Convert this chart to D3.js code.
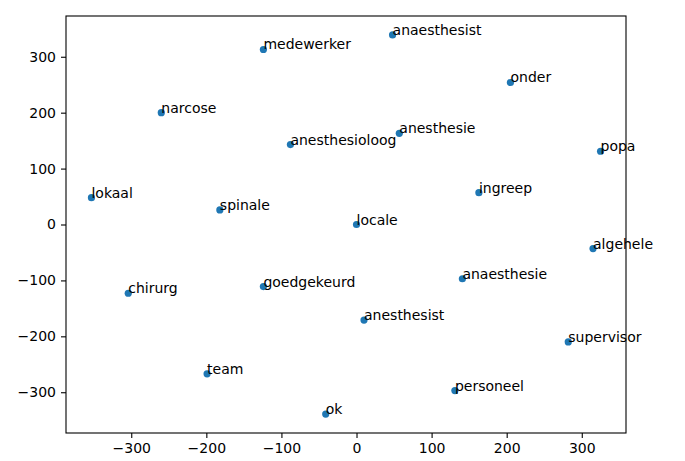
<!DOCTYPE html>
<html>
<head>
<meta charset="utf-8">
<script src="https://cdn.jsdelivr.net/npm/d3@7"></script>
<style>
  body { margin: 0; background: #fff; }
  text { font-family: "DejaVu Sans", sans-serif; }
</style>
</head>
<body>
<svg id="chart"></svg>
<script>
// Words and their 2-D embedding coordinates
const words = ["medewerker", "narcose", "anesthesioloog", "lokaal", "spinale",
  "anaesthesist", "onder", "anesthesie", "popa", "ingreep", "locale",
  "algehele", "anaesthesie", "anesthesist", "supervisor", "personeel",
  "chirurg", "goedgekeurd", "team", "ok"];
const xs = [-124, -260, -88, -353, -182, 48, 205, 57, 325, 163, 0,
  315, 141, 10, 282, 131, -304, -124, -199, -41];
const ys = [313, 200, 143, 48, 26, 339, 254, 163, 131, 57, 0,
  -43, -97, -171, -210, -297, -123, -111, -267, -339];
const xTicks = [-300, -200, -100, 0, 100, 200, 300];
const yTicks = [-300, -200, -100, 0, 100, 200, 300];

const width = 685, height = 461;
const margin = {top: 16, right: 59, bottom: 28, left: 66};

const svg = d3.select("#chart")
  .attr("width", width)
  .attr("height", height);

//Scales with matplotlib-style 5% padding
const padX = (d3.max(xs) - d3.min(xs)) * 0.05;
const padY = (d3.max(ys) - d3.min(ys)) * 0.05;
const x = d3.scaleLinear()
  .domain([d3.min(xs) - padX, d3.max(xs) + padX])
  .range([margin.left, width - margin.right]);
const y = d3.scaleLinear()
  .domain([d3.min(ys) - padY, d3.max(ys) + padY])
  .range([height - margin.bottom, margin.top]);

const fmt = d => d < 0 ? "\u2212" + Math.abs(d) : String(d);

//Axes
const gx = svg.append("g")
  .attr("transform", `translate(0, ${height - margin.bottom})`)
  .call(d3.axisBottom(x).tickValues(xTicks).tickFormat(fmt).tickSizeOuter(0).tickSize(5).tickPadding(5));
const gy = svg.append("g")
  .attr("transform", `translate(${margin.left}, 0)`)
  .call(d3.axisLeft(y).tickValues(yTicks).tickFormat(fmt).tickSizeOuter(0).tickSize(5).tickPadding(5));

[gx, gy].forEach(g => {
  g.select(".domain").remove();
  g.selectAll("line").attr("stroke", "#000").attr("stroke-width", 1.1);
  g.selectAll("text")
    .attr("fill", "#000")
    .style("font-size", "14px")
    .style("font-family", "'DejaVu Sans', sans-serif");
});

//Frame
svg.append("rect")
  .attr("x", margin.left)
  .attr("y", margin.top)
  .attr("width", width - margin.right - margin.left)
  .attr("height", height - margin.bottom - margin.top)
  .attr("fill", "none")
  .attr("stroke", "#000")
  .attr("stroke-width", 1.1);

const data = words.map((w, i) => ({word: w, x: xs[i], y: ys[i]}));

//Points
svg.append("g")
  .selectAll("circle")
  .data(data)
  .join("circle")
  .attr("cx", d => x(d.x))
  .attr("cy", d => y(d.y))
  .attr("r", 3.6)
  .attr("fill", "#1f77b4");

//Labels (left aligned, baseline at point)
svg.append("g")
  .selectAll("text")
  .data(data)
  .join("text")
  .attr("x", d => x(d.x))
  .attr("y", d => y(d.y))
  .attr("fill", "#000")
  .style("font-size", "14px")
  .text(d => d.word);
</script>
</body>
</html>
